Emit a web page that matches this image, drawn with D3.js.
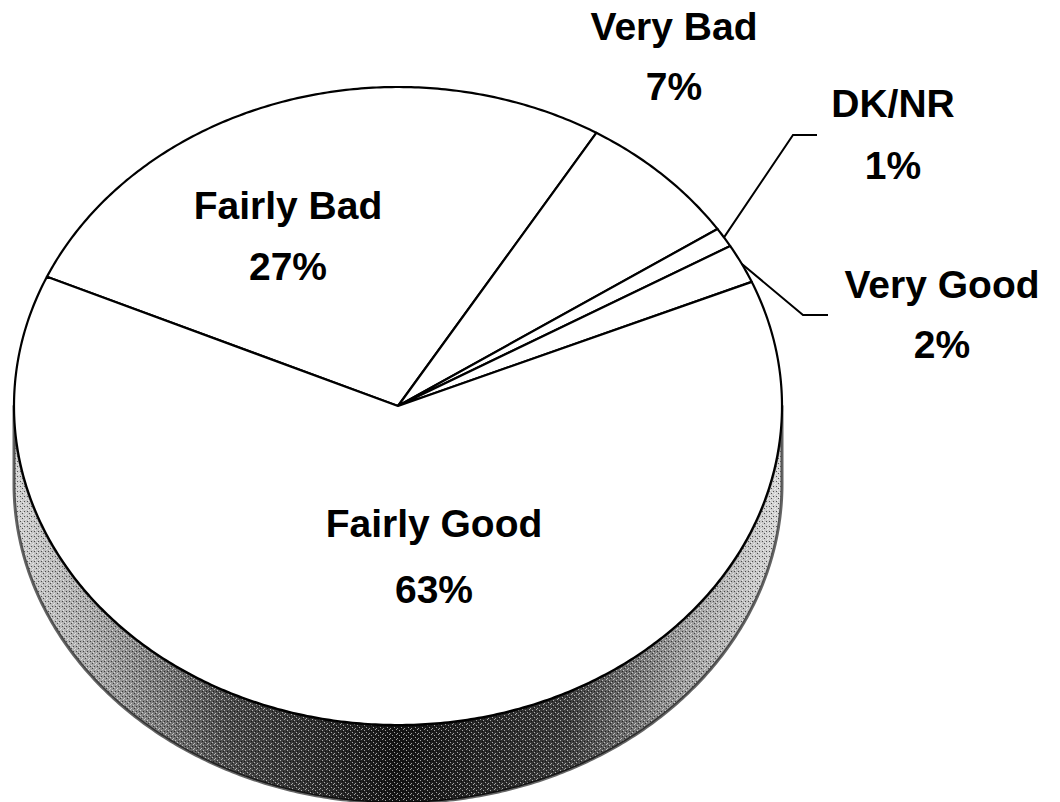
<!DOCTYPE html>
<html>
<head>
<meta charset="utf-8">
<script src="https://cdn.jsdelivr.net/npm/d3@7/dist/d3.min.js"></script>
<style>
  body { margin: 0; background: #fff; }
  text { font-family: "Liberation Sans", Arial, sans-serif; font-weight: bold; }
</style>
</head>
<body>
<div id="pie"></div>
<script>
// data
var categories = ["Fairly Bad", "Very Bad", "DK/NR", "Very Good", "Fairly Good"];
var values = [27, 7, 1, 2, 63];

var w = 1060;
var h = 802;

// ellipse geometry of the tilted pie
var cx = 398, cy = 406, rx = 384, ry = 319, depth = 78;
var startDeg = -66.1;

// label layout: x, baseline of name, baseline of percent, leader elbow points
var labelPos = {
    "Fairly Bad": { x: 288, y1: 219, y2: 280 },
    "Very Bad": { x: 674, y1: 40, y2: 100 },
    "DK/NR": { x: 893, y1: 117, y2: 179, leader: [[793, 135], [817, 135]] },
    "Very Good": { x: 942, y1: 298, y2: 358, leader: [[803, 315], [828, 315]] },
    "Fairly Good": { x: 434, y1: 537, y2: 603 }
};

var svg = d3.select("#pie")
    .append("svg")
    .attr("width", w)
    .attr("height", h);

var defs = svg.append("defs");

var grad = defs.append("linearGradient")
    .attr("id", "sideGrad")
    .attr("gradientUnits", "userSpaceOnUse")
    .attr("x1", cx - rx).attr("x2", cx + rx)
    .attr("y1", 0).attr("y2", 0);
[[0, "#d0d0d0"], [0.1, "#a8a8a8"], [0.28, "#4a4a4a"], [0.5, "#141414"], [0.72, "#3c3c3c"], [0.88, "#a0a0a0"], [1, "#d8d8d8"]]
    .forEach(function(s) {
        grad.append("stop").attr("offset", s[0]).attr("stop-color", s[1]);
    });

// speckle texture for the dithered side
var pat = defs.append("pattern")
    .attr("id", "speckle")
    .attr("patternUnits", "userSpaceOnUse")
    .attr("width", 7).attr("height", 5);
[[0, 0, "#fff"], [3, 1, "#000"], [5, 3, "#fff"], [1, 3, "#000"], [4, 4, "#fff"], [6, 1, "#000"], [2, 2, "#fff"]]
    .forEach(function(p) {
        pat.append("rect").attr("x", p[0]).attr("y", p[1])
            .attr("width", 1).attr("height", 1).attr("fill", p[2]);
    });

var pie = d3.pie()
    .sort(null)
    .value(function(d) { return d; })
    .startAngle(startDeg * Math.PI / 180)
    .endAngle(startDeg * Math.PI / 180 + 2 * Math.PI);

var arcs = pie(values);

function px(a) { return cx + rx * Math.sin(a); }
function py(a) { return cy - ry * Math.cos(a); }

function samples(a0, a1) {
    var n = Math.max(2, Math.ceil(Math.abs(a1 - a0) / 0.01));
    var out = [];
    for (var i = 0; i <= n; i++) out.push(a0 + (a1 - a0) * i / n);
    return out;
}

var line = d3.line();

// side walls: visible part of each slice between 90 and 270 degrees
var sideGroup = svg.append("g").attr("id", "side");
arcs.forEach(function(d) {
    var lo = Math.PI / 2, hi = 3 * Math.PI / 2;
    [0, 2 * Math.PI, -2 * Math.PI].forEach(function(k) {
        var a0 = Math.max(d.startAngle + k, lo);
        var a1 = Math.min(d.endAngle + k, hi);
        if (a1 <= a0) return;
        var top = samples(a0, a1).map(function(a) { return [px(a), py(a)]; });
        var bot = samples(a1, a0).map(function(a) { return [px(a), py(a) + depth]; });
        var pts = top.concat(bot);
        sideGroup.append("path")
            .attr("d", line(pts) + "Z")
            .attr("fill", "url(#sideGrad)");
        sideGroup.append("path")
            .attr("d", line(pts) + "Z")
            .attr("fill", "url(#speckle)")
            .attr("opacity", 0.6)
            .attr("stroke", "#000")
            .attr("stroke-width", 3)
            .attr("stroke-linejoin", "round");
    });
});

// top face slices
svg.append("g").attr("id", "top")
    .selectAll("path")
    .data(arcs)
    .enter().append("path")
    .attr("d", function(d) {
        var pts = [[cx, cy]].concat(samples(d.startAngle, d.endAngle).map(function(a) {
            return [px(a), py(a)];
        }));
        return line(pts) + "Z";
    })
    .attr("fill", "#fff")
    .attr("stroke", "#000")
    .attr("stroke-width", 2.2)
    .attr("stroke-linejoin", "round");

// labels
var labels = svg.append("g").attr("id", "labels");
arcs.forEach(function(d, i) {
    var name = categories[i];
    var p = labelPos[name];
    if (p.leader) {
        var mid = (d.startAngle + d.endAngle) / 2;
        var pts = [[px(mid), py(mid)]].concat(p.leader);
        labels.append("path")
            .attr("d", line(pts))
            .attr("fill", "none")
            .attr("stroke", "#000")
            .attr("stroke-width", 2);
    }
    labels.append("text")
        .attr("x", p.x).attr("y", p.y1)
        .attr("text-anchor", "middle")
        .style("font-size", "39px")
        .text(name);
    labels.append("text")
        .attr("x", p.x).attr("y", p.y2)
        .attr("text-anchor", "middle")
        .style("font-size", "39px")
        .text(values[i] + "%");
});
</script>
</body>
</html>
